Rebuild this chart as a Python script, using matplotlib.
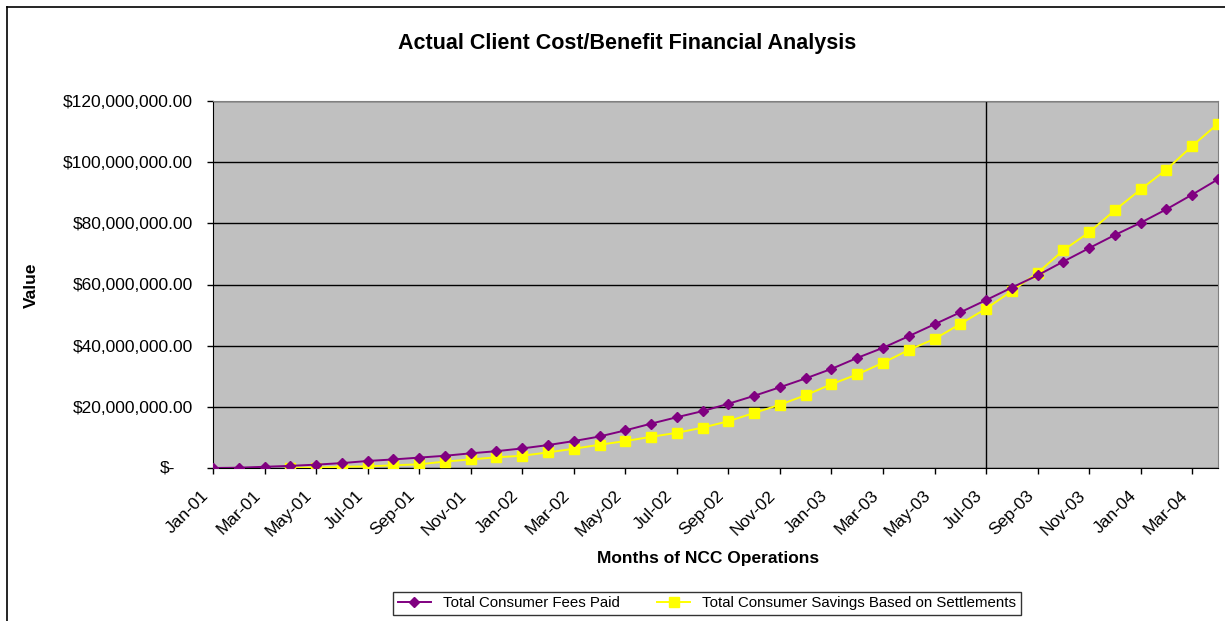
import numpy as np
import matplotlib
matplotlib.use('Agg')
import matplotlib.pyplot as plt
from matplotlib.lines import Line2D
from matplotlib.ticker import FuncFormatter
from matplotlib.transforms import ScaledTranslation

plt.rcParams['font.family'] = ['Liberation Sans', 'DejaVu Sans']

months = ['Jan-01', 'Feb-01', 'Mar-01', 'Apr-01', 'May-01', 'Jun-01', 'Jul-01', 'Aug-01',
          'Sep-01', 'Oct-01', 'Nov-01', 'Dec-01', 'Jan-02', 'Feb-02', 'Mar-02', 'Apr-02',
          'May-02', 'Jun-02', 'Jul-02', 'Aug-02', 'Sep-02', 'Oct-02', 'Nov-02', 'Dec-02',
          'Jan-03', 'Feb-03', 'Mar-03', 'Apr-03', 'May-03', 'Jun-03', 'Jul-03', 'Aug-03',
          'Sep-03', 'Oct-03', 'Nov-03', 'Dec-03', 'Jan-04', 'Feb-04', 'Mar-04', 'Apr-04']

# values in millions of dollars
fees_paid = [0.0, 0.1, 0.4, 0.7, 1.1, 1.6, 2.3, 2.8, 3.4, 4.0, 4.8, 5.5,
             6.4, 7.5, 8.8, 10.3, 12.3, 14.5, 16.6, 18.6, 21.0, 23.6, 26.4, 29.3,
             32.4, 36.0, 39.3, 43.1, 47.0, 50.9, 54.9, 59.0, 63.0, 67.5, 71.9, 76.2,
             80.2, 84.6, 89.4, 94.4]
savings = [np.nan, np.nan, np.nan, 0.1, 0.1, 0.4, 0.5, 0.9, 1.2, 2.1, 2.8, 3.5,
           4.0, 5.1, 6.3, 7.6, 8.8, 10.2, 11.5, 13.2, 15.3, 18.0, 20.7, 23.8,
           27.4, 30.6, 34.4, 38.6, 42.2, 47.1, 52.1, 57.9, 63.8, 71.2, 77.1, 84.3,
           91.1, 97.6, 105.3, 112.6]
marker_month = 'Jul-03'

x = np.arange(len(months))
fig = plt.figure(figsize=(12.25, 6.21), dpi=100)
ax = fig.add_axes([213/1225, 1-468/621, (1218-213)/1225, (468-101)/621])
ax.set_facecolor('#C0C0C0')

ax.plot(x, np.array(fees_paid)*1e6, color='#800080', marker='D', markersize=5.5,
        lw=1.4, label='Total Consumer Fees Paid', zorder=4)
ax.plot(x, np.array(savings)*1e6, color='#FFFF00', marker='s', markersize=7,
        lw=1.4, label='Total Consumer Savings Based on Settlements', zorder=3)
ax.axvline(months.index(marker_month), color='black', lw=1, zorder=2)

ax.set_xlim(0, len(months)-1)
ax.set_ylim(0, 120e6)
ax.set_yticks(np.arange(0, 121e6, 20e6))
ax.yaxis.set_major_formatter(FuncFormatter(lambda v, p: '' if v == 0 else '${:,.2f}'.format(v)))
# accounting style zero label sits a bit further left
ax.annotate('$-', xy=(0, 0), xycoords='axes fraction', xytext=(-38, 0),
            textcoords='offset pixels', ha='right', va='center', fontsize=12.5)
ax.tick_params(axis='y', labelsize=12.5, length=4.5, width=1, pad=10, direction='out')
ax.tick_params(axis='x', length=4.5, width=1, pad=11, direction='out')
ax.set_xticks(x[::2])
ax.set_xticklabels(months[::2], rotation=45, ha='right', va='center',
                   rotation_mode='anchor', fontsize=12.5)
shift = ScaledTranslation(-0.065, -0.035, fig.dpi_scale_trans)
for lbl in ax.get_xticklabels():
    lbl.set_transform(lbl.get_transform() + shift)
ax.grid(axis='y', color='black', lw=1, zorder=1)
ax.set_axisbelow(True)
for s in ['top', 'right']:
    ax.spines[s].set_color('#808080')
for s in ['left', 'bottom']:
    ax.spines[s].set_color('black')

fig.text(627/1225, 1-43/621, 'Actual Client Cost/Benefit Financial Analysis',
         ha='center', va='center', fontsize=15.5, fontweight='bold')
fig.text(708/1225, 1-558/621, 'Months of NCC Operations', ha='center', va='center',
         fontsize=12.5, fontweight='bold')
fig.text(31/1225, 1-285/621, 'Value', ha='center', va='center', rotation=90,
         fontsize=12.5, fontweight='bold')

leg = fig.legend(loc='center', bbox_to_anchor=(707/1225, 1-603/621), ncol=2,
                 fontsize=10.8, frameon=True, fancybox=False, edgecolor='black',
                 handlelength=2.2, columnspacing=2.5, borderpad=0.3)
leg.get_frame().set_linewidth(1)

fig.add_artist(Line2D([7/1225, 7/1225], [0, 1-7/621], color='black', lw=1.2))
fig.add_artist(Line2D([7/1225, 1], [1-7/621, 1-7/621], color='black', lw=1.2))

fig.savefig('out.png', dpi=100)
